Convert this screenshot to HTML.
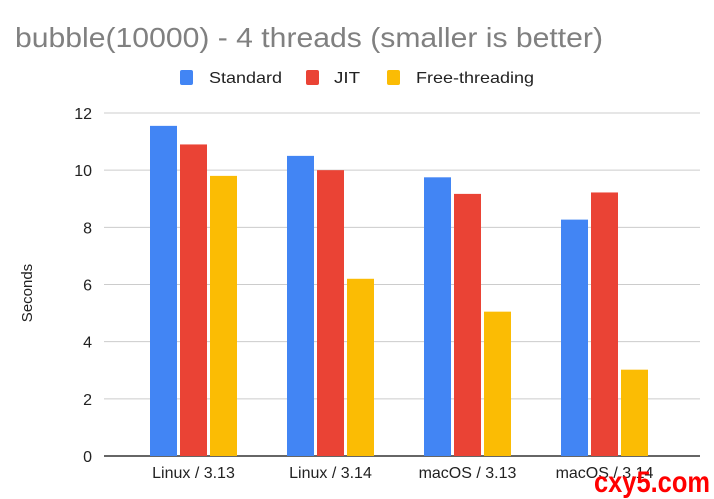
<!DOCTYPE html>
<html><head><meta charset="utf-8"><style>
body{margin:0;background:#fff;}
svg{display:block;font-family:"Liberation Sans",Arial,sans-serif;}
</style></head><body>
<svg width="714" height="499" viewBox="0 0 714 499">
<text x="15" y="47" font-size="28" fill="#808080" textLength="588" lengthAdjust="spacingAndGlyphs">bubble(10000) - 4 threads (smaller is better)</text>
<g>
<rect x="180" y="70" width="13" height="15" rx="2" fill="#4285f4"/>
<text x="209" y="83" font-size="16" fill="#222" textLength="73" lengthAdjust="spacingAndGlyphs">Standard</text>
<rect x="306" y="70" width="13" height="15" rx="2" fill="#ea4335"/>
<text x="334" y="83" font-size="16" fill="#222" textLength="26" lengthAdjust="spacingAndGlyphs">JIT</text>
<rect x="387" y="70" width="13" height="15" rx="2" fill="#fbbc04"/>
<text x="416" y="83" font-size="16" fill="#222" textLength="118" lengthAdjust="spacingAndGlyphs">Free-threading</text>
</g>
<text transform="translate(32,293) rotate(-90)" text-anchor="middle" font-size="15" fill="#222">Seconds</text>
<g id="grid"></g><g id="bars"></g><g id="xl"></g>
<text x="710" y="492" text-anchor="end" font-size="30" font-weight="bold" fill="#ff0000" textLength="116" lengthAdjust="spacingAndGlyphs">cxy5.com</text>
</svg>
<script>
const categories=["Linux / 3.13","Linux / 3.14","macOS / 3.13","macOS / 3.14"];
const standard=[11.55,10.5,9.75,8.27];
const jit=[10.9,10.0,9.17,9.22];
const freeThreading=[9.8,6.2,5.05,3.02];
const yTicks=[0,2,4,6,8,10,12];
const NS="http://www.w3.org/2000/svg";
const y0=456,yTop=113,yMax=12,left=104,right=700;
const y=v=>y0-(v/yMax)*(y0-yTop);
const cx=i=>193.5+137*i;
function mk(t,a,p){const e=document.createElementNS(NS,t);for(const k in a)e.setAttribute(k,a[k]);p.appendChild(e);return e;}
const grid=document.getElementById('grid');
yTicks.forEach(t=>{
 const l=mk('line',{x1:left,x2:right,y1:y(t),y2:y(t),stroke:t===0?'#333':'#ccc','stroke-width':t===0?1.5:1},grid);
 
 
 const tx=mk('text',{x:92,y:y(t)+6,'text-anchor':'end','font-size':16,fill:'#222'},grid);
 tx.textContent=t;
 
 
});
const series=[[standard,'#4285f4','standard'],[jit,'#ea4335','jit'],[freeThreading,'#fbbc04','free-threading']];
const bars=document.getElementById('bars'),xl=document.getElementById('xl');
const bw=27,gap=3;
categories.forEach((c,i)=>{
 series.forEach(([arr,col,nm],j)=>{
  const x=cx(i)-1.5*bw-gap+j*(bw+gap);
  const r=mk('rect',{x:x,y:y(arr[i]),width:bw,height:y0-y(arr[i]),fill:col},bars);
  
  
 });
 const t=mk('text',{x:cx(i),y:478,'text-anchor':'middle','font-size':16,fill:'#222'},xl);
 t.textContent=c;
 
 
});
</script>
</body></html>
